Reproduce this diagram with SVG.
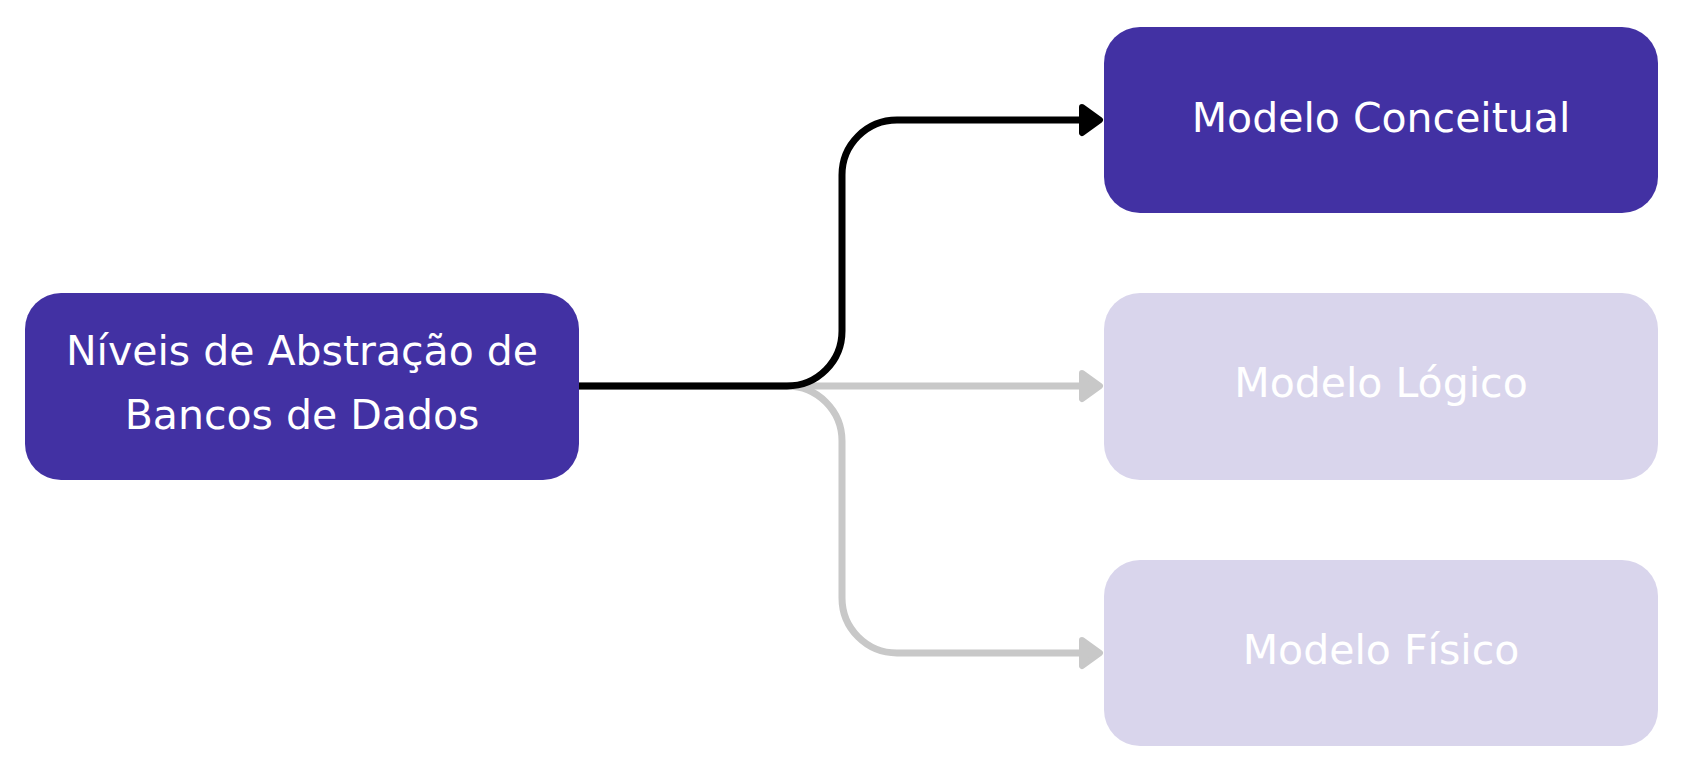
<svg xmlns="http://www.w3.org/2000/svg" width="1685" height="772" viewBox="0 0 1685 772">
  <style>
    .dark { fill: #4231A3; }
    .light { fill: #D9D5EC; }
    .lbl { font-family: "DejaVu Sans", "Liberation Sans", sans-serif; font-size: 41px; font-weight: 400; fill: #FFFFFF; text-anchor: middle; }
    .edge { fill: none; stroke-width: 7; }
    .black { stroke: #000000; }
    .grey { stroke: #C8C8C8; }
  </style>
  <defs>
    <marker id="arrBlack" markerUnits="userSpaceOnUse" markerWidth="36" markerHeight="44" viewBox="-6 -22 36 44" refX="0" refY="0" orient="auto">
      <path d="M0,-13 L18,0 L0,13 Z" fill="#000000" stroke="#000000" stroke-width="6" stroke-linejoin="round"/>
    </marker>
    <marker id="arrGrey" markerUnits="userSpaceOnUse" markerWidth="36" markerHeight="44" viewBox="-6 -22 36 44" refX="0" refY="0" orient="auto">
      <path d="M0,-13 L18,0 L0,13 Z" fill="#C8C8C8" stroke="#C8C8C8" stroke-width="6" stroke-linejoin="round"/>
    </marker>
  </defs>
  <rect width="1685" height="772" fill="#FFFFFF"/>
  <g id="connectors">
    <path class="edge grey" d="M579,386 H1082" marker-end="url(#arrGrey)"/>
    <path class="edge grey" d="M579,386 H787 A55,55 0 0 1 842,441 V598 A55,55 0 0 0 897,653 H1082" marker-end="url(#arrGrey)"/>
    <path class="edge black" d="M579,386 H787 A55,55 0 0 0 842,331 V175 A55,55 0 0 1 897,120 H1082" marker-end="url(#arrBlack)"/>
  </g>
  <g id="node-root">
    <rect class="dark" x="25" y="293" width="554" height="187" rx="36" ry="36"/>
    <text class="lbl" x="302" y="365">Níveis de Abstração de</text>
    <text class="lbl" x="302" y="429">Bancos de Dados</text>
  </g>
  <g id="node-conceitual">
    <rect class="dark" x="1104" y="27" width="554" height="186" rx="36" ry="36"/>
    <text class="lbl" x="1381" y="132">Modelo Conceitual</text>
  </g>
  <g id="node-logico">
    <rect class="light" x="1104" y="293" width="554" height="187" rx="36" ry="36"/>
    <text class="lbl" x="1381" y="397">Modelo Lógico</text>
  </g>
  <g id="node-fisico">
    <rect class="light" x="1104" y="560" width="554" height="186" rx="36" ry="36"/>
    <text class="lbl" x="1381" y="664">Modelo Físico</text>
  </g>
</svg>
